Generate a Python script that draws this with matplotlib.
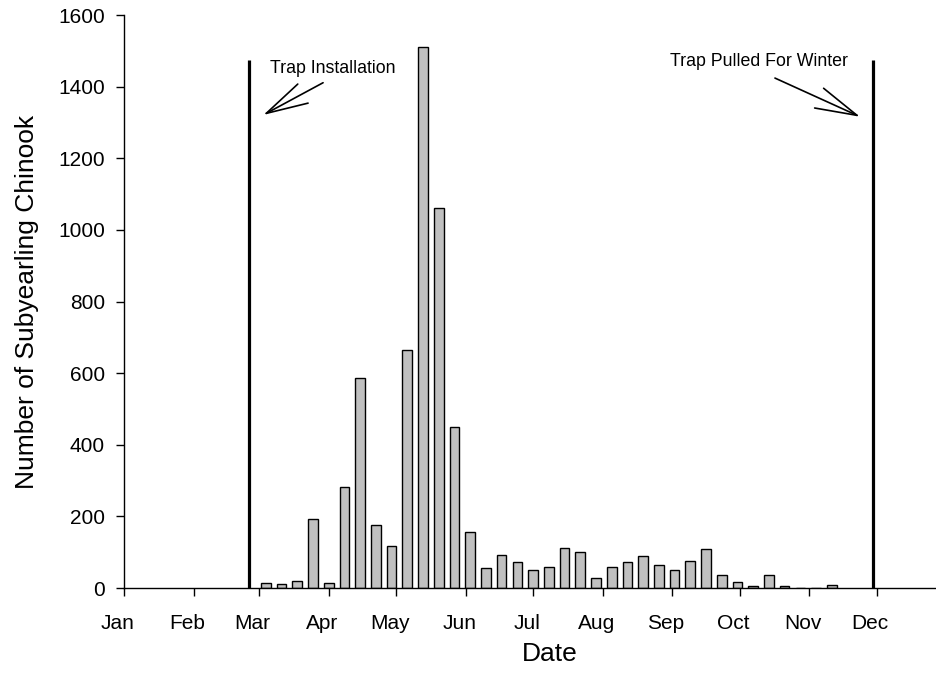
import numpy as np
import pandas as pd
import matplotlib
matplotlib.use("Agg")
import matplotlib.pyplot as plt
import matplotlib.transforms as mtransforms

plt.rcParams['font.family'] = ['Liberation Sans', 'DejaVu Sans']

# -------------------------
# Data
# -------------------------

# weekly catch, first weekly bar centred on 4 March 2004
first_week = "2004-03-04"
counts = [13, 12, 19, 192, 13, 283, 587, 175, 116, 665, 1510, 1062, 449,
          157, 55, 93, 74, 50, 60, 113, 100, 28, 58, 72, 88, 63, 50, 76,
          108, 35, 18, 5, 35, 5, 0, 0, 7]

month_labels = ["Jan", "Feb", "Mar", "Apr", "May", "Jun",
                "Jul", "Aug", "Sep", "Oct", "Nov", "Dec"]
y_ticks = [0, 200, 400, 600, 800, 1000, 1200, 1400, 1600]

trap_in = "2004-02-25 12:00"
trap_out = "2004-11-29 12:00"
trap_line_top = 1475

weeks = pd.date_range(first_week, periods=len(counts), freq="7D")
month_ticks = pd.date_range("2004-01-01", periods=12, freq="MS")
jan1 = pd.Timestamp("2004-01-01")


def day(n):
    return jan1 + pd.Timedelta(days=n)


# -------------------------
# Figure
# -------------------------

fig = plt.figure(figsize=(9.36, 6.87), dpi=100)
ax = fig.add_axes([0.1328, 0.1441, 0.8672, 0.834])

ax.bar(weeks, counts, width=4.3, color="#c0c0c0", edgecolor="black",
       linewidth=1.0, zorder=2)

ax.vlines([pd.Timestamp(trap_in), pd.Timestamp(trap_out)], 0, trap_line_top,
          color="black", linewidth=2.3, zorder=3)

arrow = dict(arrowstyle="->, head_length=3.0, head_width=0.78",
             mutation_scale=10, color="black", lw=1.2,
             shrinkA=0, shrinkB=0)
ax.annotate("", xy=(day(61.9), 1321), xytext=(day(88.5), 1411),
            arrowprops=arrow)
ax.text(day(92.9), 1452, "Trap Installation", ha="center", va="center",
        fontsize=12.8)
ax.annotate("", xy=(day(327.6), 1316), xytext=(day(289.7), 1424),
            arrowprops=arrow)
ax.text(day(282.8), 1469, "Trap Pulled For Winter", ha="center",
        va="center", fontsize=12.8)

ax.set_xlim(jan1, day(361.4))
ax.set_ylim(0, 1600)
ax.set_xticks(month_ticks)
ax.set_xticklabels(month_labels)
ax.set_yticks(y_ticks)

for s in ["top", "right"]:
    ax.spines[s].set_visible(False)
for s in ["left", "bottom"]:
    ax.spines[s].set_linewidth(1.0)

ax.tick_params(axis="both", direction="out", length=6, width=1.0,
               labelsize=15)
ax.tick_params(axis="y", pad=8)
ax.tick_params(axis="x", pad=13)

shift = mtransforms.ScaledTranslation(-0.065, 0, fig.dpi_scale_trans)
for lab in ax.get_xticklabels():
    lab.set_transform(lab.get_transform() + shift)

ax.set_xlabel("Date", fontsize=19)
ax.xaxis.set_label_coords(0.524, -0.095)
ax.set_ylabel("Number of Subyearling Chinook", fontsize=19, labelpad=14)

plt.savefig("out.png", dpi=100)
